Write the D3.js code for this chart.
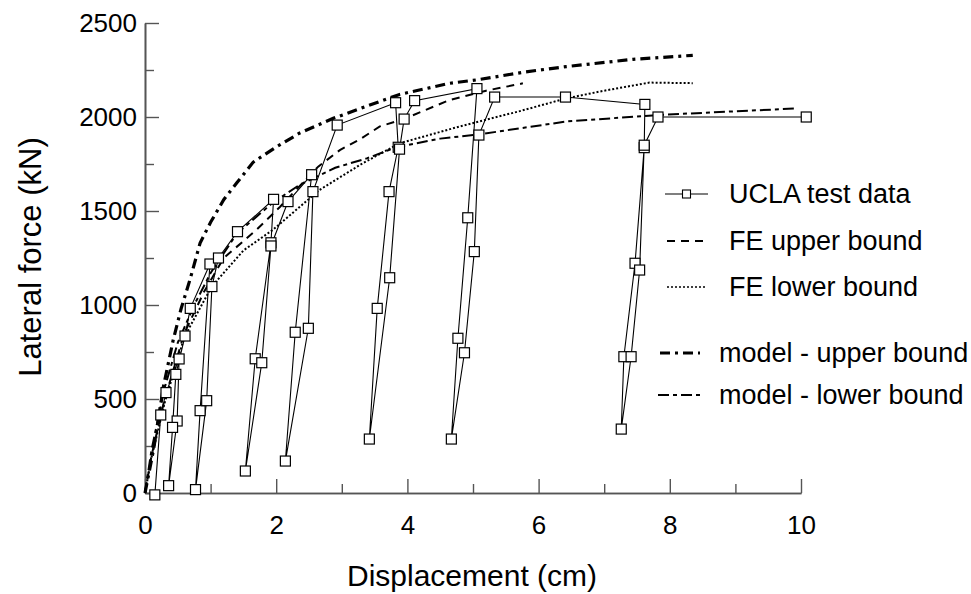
<!DOCTYPE html>
<html>
<head>
<meta charset="utf-8">
<script src="https://cdn.jsdelivr.net/npm/d3@7"></script>
<style>
  body { margin: 0; background: #fff; }
  svg text { font-family: Arial, "Liberation Sans", sans-serif; fill: #000; }
</style>
</head>
<body>
<div id="chart"></div>
<script>
// displacement (cm), lateral force (kN)
const uclaTest = [
  [0.15, -10], [0.24, 415], [0.32, 534], [0.52, 713], [0.49, 383], [0.36, 39],
  [0.42, 349], [0.47, 631], [0.61, 835], [0.69, 982], [0.99, 1218], [0.84, 438],
  [0.77, 18], [0.94, 491], [1.02, 1098], [1.12, 1250], [1.41, 1390], [1.96, 1562],
  [1.92, 1331], [1.68, 714], [1.53, 117], [1.78, 693], [1.92, 1314], [2.18, 1550],
  [2.54, 1693], [2.29, 855], [2.14, 170], [2.49, 876], [2.56, 1603], [2.93, 1957],
  [3.82, 2076], [3.86, 1839], [3.72, 1603], [3.54, 982], [3.42, 287], [3.73, 1145],
  [3.88, 1829], [3.95, 1989], [4.11, 2087], [5.06, 2151], [4.92, 1464], [4.77, 823],
  [4.67, 287], [4.87, 746], [5.02, 1284], [5.09, 1904], [5.33, 2106], [6.41, 2106],
  [7.62, 2067], [7.61, 1837], [7.47, 1222], [7.30, 725], [7.26, 340], [7.41, 725],
  [7.54, 1186], [7.61, 1850], [7.82, 2000], [10.08, 2000]
];
const feUpper = [
  [0, 0], [0.1, 200], [0.3, 500], [0.6, 850], [0.9, 1070], [1.2, 1250], [1.7, 1400],
  [2.06, 1523], [2.64, 1736], [2.97, 1824], [3.27, 1880], [3.58, 1950], [3.95, 1990],
  [4.64, 2090], [5.2, 2140], [5.76, 2179]
];
const feLower = [
  [0, 0], [0.1, 190], [0.3, 480], [0.6, 830], [1.02, 1100], [1.5, 1290], [1.95, 1400],
  [2.66, 1612], [3.3, 1750], [3.88, 1860], [4.8, 1950], [5.7, 2030], [6.42, 2099],
  [7.0, 2140], [7.69, 2183], [8.35, 2180]
];
const modelUpper = [
  [0, 0], [0.13, 230], [0.28, 565], [0.43, 814], [0.55, 980], [0.69, 1140], [0.84, 1330],
  [1.0, 1440], [1.2, 1560], [1.4, 1650], [1.65, 1760], [2.0, 1840], [2.36, 1915],
  [2.87, 1993], [3.4, 2060], [3.88, 2120], [4.64, 2179], [5.05, 2197], [5.8, 2240],
  [6.42, 2268], [7.44, 2307], [8.35, 2328]
];
const modelLower = [
  [0, 0], [0.1, 230], [0.3, 560], [0.5, 800], [0.75, 1000], [1.0, 1170], [1.4, 1380],
  [1.95, 1545], [2.36, 1640], [2.9, 1730], [3.38, 1780], [3.83, 1839], [4.5, 1885],
  [5.1, 1908], [6.42, 1976], [7.84, 2011], [9.95, 2046]
];
const xMajor = [0, 2, 4, 6, 8, 10];
const xMinor = [1, 3, 5, 7, 9];
const yMajor = [0, 500, 1000, 1500, 2000, 2500];
const yMinor = [250, 750, 1250, 1750, 2250];
const legendLabels = ["UCLA test data", "FE upper bound", "FE lower bound", "model - upper bound", "model - lower bound"];

const svg = d3.select('#chart').append('svg')
  .attr('width', 971)
  .attr('height', 594);

const x = d3.scaleLinear().domain([0, 10]).range([145, 801]);
const y = d3.scaleLinear().domain([0, 2500]).range([493, 23]);

function styleAxis(g) {
  g.select('.domain').attr('stroke', '#555').attr('stroke-width', 1.6);
  g.selectAll('.tick line').attr('stroke', '#555').attr('stroke-width', 1.4);
  g.selectAll('.tick text').style('font-size', '26px').attr('fill', '#000');
}

// axes, ticks point inwards
svg.append('g')
  .attr('transform', 'translate(0,493)')
  .call(d3.axisBottom(x).tickValues(xMinor).tickSize(-9).tickSizeOuter(0).tickFormat(''))
  .call(styleAxis);
svg.append('g')
  .attr('transform', 'translate(0,493)')
  .call(d3.axisBottom(x).tickValues(xMajor).tickSize(-14).tickSizeOuter(0)
    .tickPadding(23).tickFormat(d3.format('d')))
  .call(styleAxis);
svg.append('g')
  .attr('transform', 'translate(145,0)')
  .call(d3.axisLeft(y).tickValues(yMinor).tickSize(-9).tickSizeOuter(0).tickFormat(''))
  .call(styleAxis);
svg.append('g')
  .attr('transform', 'translate(145,0)')
  .call(d3.axisLeft(y).tickValues(yMajor).tickSize(-14).tickSizeOuter(0)
    .tickPadding(8).tickFormat(d3.format('d')))
  .call(styleAxis);

svg.append('text')
  .attr('x', 472).attr('y', 586)
  .attr('text-anchor', 'middle')
  .style('font-size', '30px')
  .text('Displacement (cm)');
svg.append('text')
  .attr('transform', 'translate(41,257) rotate(-90)')
  .attr('text-anchor', 'middle')
  .style('font-size', '31px')
  .text('Lateral force (kN)');

const line = d3.line().x(d => x(d[0])).y(d => y(d[1]));

const styles = [
  { data: feUpper, width: 2, dash: '8,6' },
  { data: feLower, width: 2, dash: '2,2' },
  { data: modelLower, width: 2, dash: '11,4,4,4' },
  { data: modelUpper, width: 3.2, dash: '10,5,3,5' }
];
styles.forEach(s => {
  svg.append('path')
    .datum(s.data)
    .attr('d', line)
    .attr('fill', 'none')
    .attr('stroke', '#000')
    .attr('stroke-width', s.width)
    .attr('stroke-dasharray', s.dash);
});

svg.append('path')
  .datum(uclaTest)
  .attr('d', line)
  .attr('fill', 'none')
  .attr('stroke', '#000')
  .attr('stroke-width', 1.1);
svg.selectAll('.pt')
  .data(uclaTest)
  .enter().append('rect')
  .attr('class', 'pt')
  .attr('x', d => x(d[0]) - 5)
  .attr('y', d => y(d[1]) - 5)
  .attr('width', 10)
  .attr('height', 10)
  .attr('fill', '#fff')
  .attr('stroke', '#000')
  .attr('stroke-width', 1.2);

// legend
const legendItems = [
  { y: 194, x1: 665, x2: 708, tx: 729, width: 1.1, dash: null, marker: true },
  { y: 241, x1: 667, x2: 705, tx: 729, width: 2, dash: '8,6' },
  { y: 287, x1: 667, x2: 707, tx: 729, width: 1.6, dash: '2,2' },
  { y: 353, x1: 660, x2: 700, tx: 719, width: 3.2, dash: '10,5,3,5' },
  { y: 395, x1: 658, x2: 700, tx: 719, width: 2, dash: '11,4,4,4' }
];
const legend = svg.selectAll('.legend')
  .data(legendItems)
  .enter().append('g')
  .attr('class', 'legend');
legend.append('line')
  .attr('x1', d => d.x1).attr('x2', d => d.x2)
  .attr('y1', d => d.y).attr('y2', d => d.y)
  .attr('stroke', '#000')
  .attr('stroke-width', d => d.width)
  .attr('stroke-dasharray', d => d.dash);
legend.filter(d => d.marker).append('rect')
  .attr('x', d => (d.x1 + d.x2) / 2 - 4)
  .attr('y', d => d.y - 4)
  .attr('width', 8).attr('height', 8)
  .attr('fill', '#fff').attr('stroke', '#000').attr('stroke-width', 1.1);
legend.append('text')
  .attr('x', d => d.tx)
  .attr('y', d => d.y + 9)
  .style('font-size', '27px')
  .text((d, i) => legendLabels[i]);
</script>
</body>
</html>
